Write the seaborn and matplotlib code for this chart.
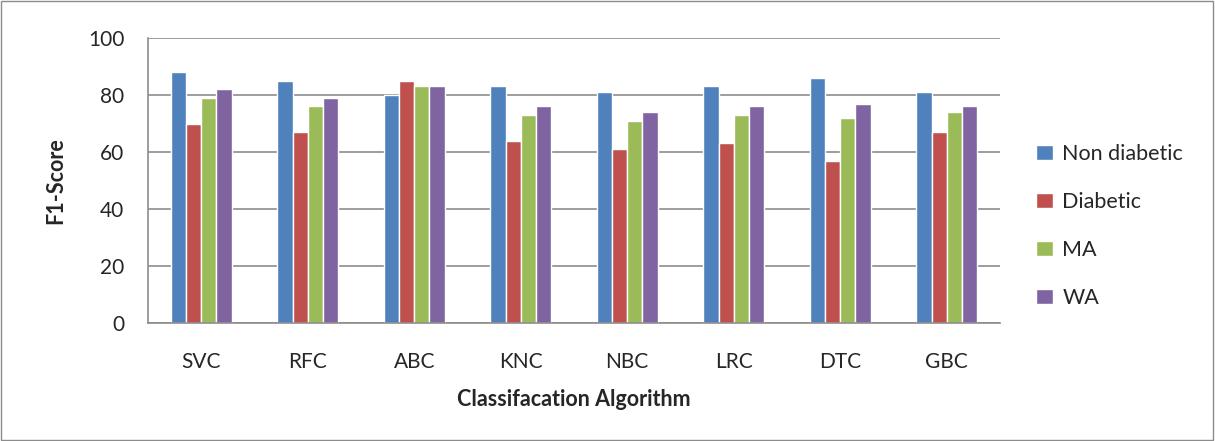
import matplotlib.pyplot as plt
import pandas as pd
import seaborn as sns
from matplotlib.patches import Rectangle

# values
algorithms = ['SVC', 'RFC', 'ABC', 'KNC', 'NBC', 'LRC', 'DTC', 'GBC']
non_diabetic = [88, 85, 80, 83, 81, 83, 86, 81]
diabetic = [70, 67, 85, 64, 61, 63, 57, 67]
ma = [79, 76, 83, 73, 71, 73, 72, 74]
wa = [82, 79, 83, 76, 74, 76, 77, 76]
series_names = ['Non diabetic', 'Diabetic', 'MA', 'WA']
colors = ['#4f81bd', '#c0504d', '#9bbb59', '#8064a2']

rows = []
for name, vals in zip(series_names, [non_diabetic, diabetic, ma, wa]):
    for alg, v in zip(algorithms, vals):
        rows.append({'Algorithm': alg, 'Series': name, 'F1': v})
df = pd.DataFrame(rows)

sns.set_style('white')
plt.rcParams['font.family'] = ['Lato', 'DejaVu Sans']

fig = plt.figure(figsize=(12.15, 4.41), dpi=100)
ax = fig.add_axes([0.1218, 0.2676, 0.7012, 0.6462])

sns.barplot(data=df, x='Algorithm', y='F1', hue='Series', palette=colors,
            width=0.57, ax=ax, saturation=1, legend=True)

ax.set_ylim(0, 100)
ax.set_xlim(-0.5, len(algorithms) - 0.5)
ax.set_yticks(range(0, 101, 20))
ax.yaxis.grid(True, color='#8c8c8c', linewidth=1.2)
ax.set_axisbelow(True)
for s in ['top', 'right']:
    ax.spines[s].set_visible(False)
for s in ['left', 'bottom']:
    ax.spines[s].set_color('#8c8c8c')
    ax.spines[s].set_linewidth(1.2)
ax.tick_params(axis='y', length=7, color='#8c8c8c', labelsize=15, pad=10)
ax.tick_params(axis='x', length=0, labelsize=15, pad=21)

ax.set_xlabel('Classifacation Algorithm', fontsize=15.5, fontweight='bold', labelpad=12)
ax.set_ylabel('F1-Score', fontsize=15.5, fontweight='bold', labelpad=16)

ax.legend(title=None, loc='center left', bbox_to_anchor=(1.02, 0.34),
          frameon=False, fontsize=15.5, labelspacing=1.3, handlelength=0.75,
          handleheight=0.75, handletextpad=0.45)

fig.patches.append(Rectangle((0.001, 0.002), 0.997, 0.995, transform=fig.transFigure,
                             fill=False, edgecolor='#8c8c8c', linewidth=1))

fig.savefig('out.png', dpi=100)
